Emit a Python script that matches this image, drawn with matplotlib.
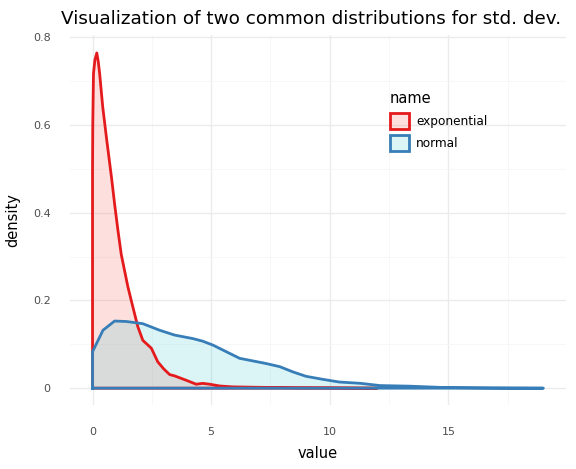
import matplotlib
matplotlib.use("Agg")
import matplotlib.pyplot as plt
from matplotlib.patches import Patch
from matplotlib.colors import to_rgba

# density curves
exp_x = [0.0, 0.01, 0.04, 0.10, 0.18, 0.24, 0.30, 0.43, 0.60, 0.80, 0.93, 1.07,
         1.21, 1.49, 1.70, 1.91, 2.12, 2.48, 2.75, 3.00, 3.25, 3.46, 3.95, 4.37,
         4.64, 4.94, 5.36, 5.90, 7.0, 8.5, 10.0, 12.0]
exp_y = [0.497, 0.600, 0.717, 0.748, 0.764, 0.745, 0.717, 0.641, 0.565, 0.480,
         0.420, 0.360, 0.305, 0.231, 0.185, 0.140, 0.109, 0.091, 0.060, 0.044,
         0.031, 0.028, 0.018, 0.009, 0.011, 0.009, 0.005, 0.003, 0.002, 0.001,
         0.0008, 0.0]

norm_x = [0.0, 0.44, 0.93, 1.42, 2.12, 2.83, 3.46, 4.23, 4.65, 5.08, 5.64, 6.20,
          6.77, 7.33, 7.89, 8.45, 9.00, 9.72, 10.4, 11.3, 12.1, 13.4, 14.8,
          16.9, 19.0]
norm_y = [0.083, 0.132, 0.153, 0.152, 0.147, 0.132, 0.121, 0.113, 0.107, 0.098,
          0.083, 0.068, 0.062, 0.056, 0.049, 0.037, 0.027, 0.020, 0.014, 0.011,
          0.006, 0.0045, 0.0015, 0.0005, 0.0]

names = ["exponential", "normal"]
line_colors = ["#E41A1C", "#377EB8"]
fill_colors = [to_rgba("#F8766D", 0.22), to_rgba("#00BFC4", 0.14)]

x_ticks = [0, 5, 10, 15]
y_ticks = [0, 0.2, 0.4, 0.6, 0.8]
y_labels = ["0", "0.2", "0.4", "0.6", "0.8"]


def draw_density(ax, xs, ys, line_color, fill_color):
    ax.fill_between(xs, 0, ys, color=fill_color, linewidth=0)
    # outline: up the left edge, along the curve, back along the baseline
    ox = [xs[0]] + list(xs) + [xs[-1], xs[0]]
    oy = [0] + list(ys) + [0, 0]
    ax.plot(ox, oy, color=line_color, lw=2.0, solid_joinstyle="round")


fig = plt.figure(figsize=(5.76, 4.69), dpi=100)
ax = fig.add_axes([0.1215, 0.1365, 0.861, 0.7883])

draw_density(ax, exp_x, exp_y, line_colors[0], fill_colors[0])
draw_density(ax, norm_x, norm_y, line_colors[1], fill_colors[1])

ax.set_xlim(-0.95, 19.95)
ax.set_ylim(-0.0383, 0.8043)
ax.set_xticks(x_ticks)
ax.set_xticks([2.5, 7.5, 12.5, 17.5], minor=True)
ax.set_yticks(y_ticks)
ax.set_yticklabels(y_labels)
ax.set_yticks([0.1, 0.3, 0.5, 0.7], minor=True)

ax.grid(which="major", color="#EBEBEB", lw=1.0)
ax.grid(which="minor", color="#F6F6F6", lw=0.6)
ax.set_axisbelow(True)
for s in ax.spines.values():
    s.set_visible(False)
ax.tick_params(which="both", length=0)
ax.tick_params(axis="x", pad=16, labelsize=8, labelcolor="#4D4D4D")
ax.tick_params(axis="y", pad=14, labelsize=8, labelcolor="#4D4D4D")

ax.set_xlabel("value", fontsize=10.5, labelpad=6)
ax.set_ylabel("density", fontsize=10.5, labelpad=9)
ax.set_title("Visualization of two common distributions for std. dev.",
             fontsize=13.2, pad=8, x=0.487)

handles = [Patch(facecolor=fc, edgecolor=lc, linewidth=2)
           for fc, lc in zip(fill_colors, line_colors)]
leg = ax.legend(handles, names, title="name", loc="upper left",
                bbox_to_anchor=(390 / 576, 1 - 91 / 469),
                bbox_transform=fig.transFigure, frameon=False, fontsize=8.7,
                title_fontsize=10.5, handlelength=1.6, handleheight=1.65,
                labelspacing=0.55, handletextpad=0.55, borderaxespad=0,
                borderpad=0)
leg._legend_box.align = "left"

fig.savefig("out.png", dpi=100)
